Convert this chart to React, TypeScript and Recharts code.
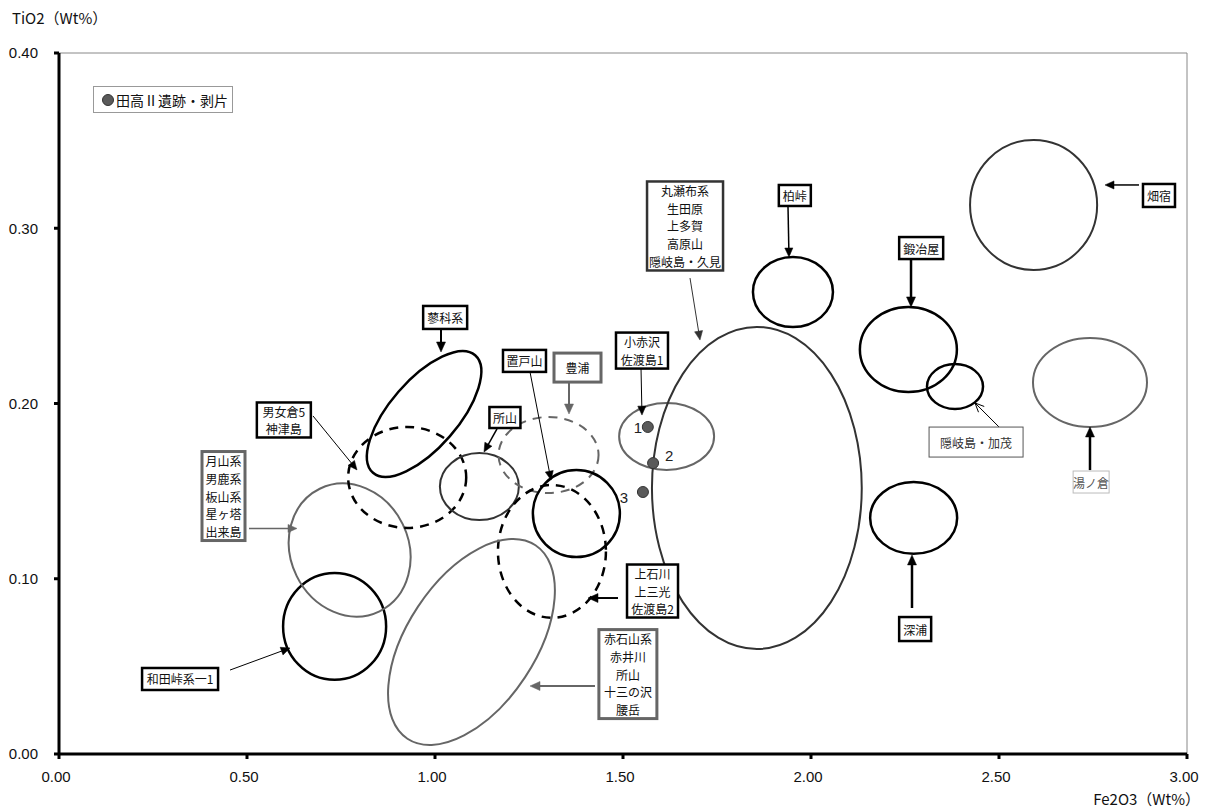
import React from 'react';
import {
  ScatterChart,
  Scatter,
  XAxis,
  YAxis,
  ReferenceArea,
  ReferenceLine,
  ReferenceDot,
  Legend,
} from 'recharts';

// ---------- data ----------
const xTicks = [0, 0.5, 1, 1.5, 2, 2.5, 3];
const yTicks = [0, 0.1, 0.2, 0.3, 0.4];
const xTitle = 'Fe2O3（Wt%）';
const yTitle = 'TiO2（Wt%）';
const seriesName = '田高Ⅱ遺跡・剥片';

// analysed flakes (Fe2O3, TiO2)
const samples = [
  { id: '1', fe: 1.566, ti: 0.1866 },
  { id: '2', fe: 1.58, ti: 0.166 },
  { id: '3', fe: 1.553, ti: 0.1495 },
];

// source fields: centre, half extents (Fe2O3, TiO2 units) before rotation, rotation in degrees
const fields = [
  { id: 'wada', fe: 0.733, ti: 0.0728, dFe: 0.137, dTi: 0.0305, angle: 0 },
  { id: 'gassan', fe: 0.773, ti: 0.1164, dFe: 0.157, dTi: 0.0389, angle: -26 },
  { id: 'menokura', fe: 0.926, ti: 0.1578, dFe: 0.157, dTi: 0.0288, angle: 0 },
  { id: 'tateshina', fe: 0.971, ti: 0.194, dFe: 0.207, dTi: 0.0194, angle: -49 },
  { id: 'tokoro', fe: 1.118, ti: 0.1526, dFe: 0.105, dTi: 0.0191, angle: 0 },
  { id: 'toyoura', fe: 1.302, ti: 0.1706, dFe: 0.133, dTi: 0.0217, angle: 0 },
  { id: 'oketo', fe: 1.376, ti: 0.1372, dFe: 0.1157, dTi: 0.0248, angle: 0 },
  { id: 'kamiishikawa', fe: 1.311, ti: 0.1156, dFe: 0.1436, dTi: 0.0379, angle: 0 },
  { id: 'akaishi', fe: 1.097, ti: 0.0639, dFe: 0.3085, dTi: 0.0366, angle: -56.5 },
  { id: 'koakasawa', fe: 1.616, ti: 0.1812, dFe: 0.1263, dTi: 0.0191, angle: 0 },
  { id: 'maruseppu', fe: 1.856, ti: 0.1518, dFe: 0.279, dTi: 0.0919, angle: 0 },
  { id: 'kashiwa', fe: 1.952, ti: 0.2636, dFe: 0.1064, dTi: 0.02, angle: 0 },
  { id: 'kajiya', fe: 2.259, ti: 0.2308, dFe: 0.129, dTi: 0.0243, angle: 0 },
  { id: 'kamo', fe: 2.383, ti: 0.2097, dFe: 0.0745, dTi: 0.0128, angle: 0 },
  { id: 'hatajuku', fe: 2.592, ti: 0.3133, dFe: 0.169, dTi: 0.0371, angle: 0 },
  { id: 'yunokura', fe: 2.742, ti: 0.212, dFe: 0.1516, dTi: 0.0254, angle: 0 },
  { id: 'fukaura', fe: 2.273, ti: 0.1347, dFe: 0.1157, dTi: 0.0205, angle: 0 },
];

// label anchors (Fe2O3, TiO2) and text
const labels = [
  { id: 'tateshina', fe: 1.027, ti: 0.2491, lines: ['蓼科系'] },
  { id: 'menokura', fe: 0.598, ti: 0.1906, lines: ['男女倉5', '神津島'] },
  { id: 'gassan', fe: 0.4375, ti: 0.1472, lines: ['月山系', '男鹿系', '板山系', '星ヶ塔', '出来島'] },
  { id: 'tokoro', fe: 1.186, ti: 0.192, lines: ['所山'] },
  { id: 'oketo', fe: 1.238, ti: 0.2243, lines: ['置戸山'] },
  { id: 'toyoura', fe: 1.379, ti: 0.2205, lines: ['豊浦'] },
  { id: 'koakasawa', fe: 1.5505, ti: 0.2302, lines: ['小赤沢', '佐渡島1'] },
  { id: 'kamiishikawa', fe: 1.5785, ti: 0.093, lines: ['上石川', '上三光', '佐渡島2'] },
  { id: 'akaishi', fe: 1.513, ti: 0.0456, lines: ['赤石山系', '赤井川', '所山', '十三の沢', '腰岳'] },
  { id: 'wada', fe: 0.322, ti: 0.0428, lines: ['和田峠系一1'] },
  { id: 'maruseppu', fe: 1.665, ti: 0.3013, lines: ['丸瀬布系', '生田原', '上多賀', '高原山', '隠岐島・久見'] },
  { id: 'kashiwa', fe: 1.957, ti: 0.3187, lines: ['柏峠'] },
  { id: 'kajiya', fe: 2.293, ti: 0.2887, lines: ['鍛冶屋'] },
  { id: 'kamo', fe: 2.439, ti: 0.178, lines: ['隠岐島・加茂'] },
  { id: 'hatajuku', fe: 2.9255, ti: 0.3187, lines: ['畑宿'] },
  { id: 'yunokura', fe: 2.745, ti: 0.1552, lines: ['湯ノ倉'] },
  { id: 'fukaura', fe: 2.277, ti: 0.0713, lines: ['深浦'] },
];

// leader arrows: from (label side) -> to (field side)
const arrows = [
  { id: 'tateshina', from: [1.016, 0.2425], to: [1.016, 0.2294] },
  { id: 'menokura', from: [0.6755, 0.1929], to: [0.7926, 0.1621] },
  { id: 'gassan', from: [0.5053, 0.1287], to: [0.633, 0.1287] },
  { id: 'tokoro', from: [1.1649, 0.1855], to: [1.1303, 0.1723] },
  { id: 'oketo', from: [1.2527, 0.218], to: [1.3085, 0.1563] },
  { id: 'toyoura', from: [1.3564, 0.2123], to: [1.3564, 0.194] },
  { id: 'koakasawa', from: [1.5479, 0.2203], to: [1.5505, 0.1934] },
  { id: 'kamiishikawa', from: [1.4867, 0.089], to: [1.4069, 0.089] },
  { id: 'akaishi', from: [1.4255, 0.0388], to: [1.2527, 0.0388] },
  { id: 'wada', from: [0.4548, 0.0479], to: [0.6144, 0.0605] },
  { id: 'maruseppu', from: [1.6782, 0.2716], to: [1.7048, 0.2362] },
  { id: 'kashiwa', from: [1.9388, 0.3127], to: [1.9415, 0.2836] },
  { id: 'kajiya', from: [2.266, 0.2825], to: [2.266, 0.2551] },
  { id: 'kamo', from: [2.5, 0.1866], to: [2.4362, 0.2003] },
  { id: 'hatajuku', from: [2.8723, 0.3247], to: [2.7819, 0.3247] },
  { id: 'yunokura', from: [2.742, 0.162], to: [2.742, 0.1866] },
  { id: 'fukaura', from: [2.2686, 0.0833], to: [2.2686, 0.1136] },
];

// ---------- styles ----------
const JP = '"Noto Sans CJK JP", "Noto Sans", sans-serif';
const LAT = '"Liberation Sans", Arial, sans-serif';
const BLACK = '#000';
const DARK = '#333';
const GRAY = '#666';

const fieldStyle: Record<string, { stroke: string; w: number; dash?: string }> = {
  wada: { stroke: BLACK, w: 2.5 },
  gassan: { stroke: GRAY, w: 2 },
  menokura: { stroke: BLACK, w: 2.5, dash: '9 7' },
  tateshina: { stroke: BLACK, w: 2.5 },
  tokoro: { stroke: DARK, w: 2 },
  toyoura: { stroke: GRAY, w: 2, dash: '9 7' },
  oketo: { stroke: BLACK, w: 2.5 },
  kamiishikawa: { stroke: BLACK, w: 2.5, dash: '9 7' },
  akaishi: { stroke: GRAY, w: 2 },
  koakasawa: { stroke: GRAY, w: 2 },
  maruseppu: { stroke: DARK, w: 2 },
  kashiwa: { stroke: BLACK, w: 2.5 },
  kajiya: { stroke: BLACK, w: 2.5 },
  kamo: { stroke: BLACK, w: 2.5 },
  hatajuku: { stroke: DARK, w: 2 },
  yunokura: { stroke: GRAY, w: 2 },
  fukaura: { stroke: BLACK, w: 2.5 },
};

const boxStyle: Record<string, { w: number; h: number; border: string; bw: number; color: string }> = {
  tateshina: { w: 44, h: 23, border: BLACK, bw: 2.5, color: '#111' },
  menokura: { w: 54, h: 35, border: BLACK, bw: 2.5, color: '#111' },
  gassan: { w: 43, h: 89, border: GRAY, bw: 3, color: '#111' },
  tokoro: { w: 31, h: 21, border: BLACK, bw: 2.5, color: '#111' },
  oketo: { w: 43, h: 22, border: BLACK, bw: 2.5, color: '#111' },
  toyoura: { w: 47, h: 29, border: GRAY, bw: 3, color: '#111' },
  koakasawa: { w: 52, h: 36, border: BLACK, bw: 2.5, color: '#111' },
  kamiishikawa: { w: 51, h: 53, border: BLACK, bw: 2.5, color: '#111' },
  akaishi: { w: 58, h: 89, border: GRAY, bw: 3, color: '#111' },
  wada: { w: 76, h: 22, border: BLACK, bw: 2.5, color: '#111' },
  maruseppu: { w: 76, h: 89, border: DARK, bw: 2.5, color: '#111' },
  kashiwa: { w: 32, h: 21, border: BLACK, bw: 2.5, color: '#111' },
  kajiya: { w: 44, h: 22, border: BLACK, bw: 2.5, color: '#111' },
  kamo: { w: 94, h: 30, border: '#555', bw: 1, color: '#333' },
  hatajuku: { w: 32, h: 23, border: BLACK, bw: 2.5, color: '#111' },
  yunokura: { w: 36, h: 22, border: '#bbb', bw: 1, color: '#555' },
  fukaura: { w: 32, h: 24, border: BLACK, bw: 2.5, color: '#111' },
};

const arrowStyle: Record<string, { stroke: string; w: number; head: number; open?: boolean }> = {
  tateshina: { stroke: BLACK, w: 2, head: 10 },
  menokura: { stroke: BLACK, w: 1, head: 9 },
  gassan: { stroke: GRAY, w: 1.5, head: 9 },
  tokoro: { stroke: BLACK, w: 1.5, head: 9 },
  oketo: { stroke: BLACK, w: 1, head: 9 },
  toyoura: { stroke: GRAY, w: 2, head: 10 },
  koakasawa: { stroke: BLACK, w: 1, head: 9 },
  kamiishikawa: { stroke: BLACK, w: 2, head: 10 },
  akaishi: { stroke: GRAY, w: 2, head: 10 },
  wada: { stroke: BLACK, w: 1, head: 9 },
  maruseppu: { stroke: DARK, w: 1, head: 9 },
  kashiwa: { stroke: BLACK, w: 1.5, head: 9 },
  kajiya: { stroke: BLACK, w: 2.5, head: 10 },
  kamo: { stroke: BLACK, w: 1, head: 9, open: true },
  hatajuku: { stroke: BLACK, w: 1.5, head: 9 },
  yunokura: { stroke: BLACK, w: 2.5, head: 10 },
  fukaura: { stroke: BLACK, w: 2.5, head: 10 },
};

const sampleLabelOffset: Record<string, [number, number]> = {
  '1': [-10, 1],
  '2': [16, -8],
  '3': [-19, 5],
};

// ---------- shapes ----------
const renderEllipse = (p: any, angle: number, st: { stroke: string; w: number; dash?: string }) => {
  const { x, y, width, height } = p;
  if (x == null || y == null) return <g />;
  const cx = x + width / 2;
  const cy = y + height / 2;
  return (
    <ellipse
      cx={cx}
      cy={cy}
      rx={width / 2}
      ry={height / 2}
      transform={`rotate(${angle} ${cx} ${cy})`}
      fill="none"
      stroke={st.stroke}
      strokeWidth={st.w}
      strokeDasharray={st.dash}
    />
  );
};

const renderArrow = (p: any, st: { stroke: string; w: number; head: number; open?: boolean }) => {
  const { x1, y1, x2, y2 } = p;
  if ([x1, y1, x2, y2].some((v) => v == null || Number.isNaN(v))) return <g />;
  const dx = x2 - x1;
  const dy = y2 - y1;
  const len = Math.hypot(dx, dy) || 1;
  const ux = dx / len;
  const uy = dy / len;
  const L = st.head;
  const W = st.head * 0.45;
  const bx = x2 - ux * L;
  const by = y2 - uy * L;
  const nx = -uy;
  const ny = ux;
  const pts = `${bx + nx * W},${by + ny * W} ${x2},${y2} ${bx - nx * W},${by - ny * W}`;
  if (st.open) {
    return (
      <g>
        <line x1={x1} y1={y1} x2={x2} y2={y2} stroke={st.stroke} strokeWidth={st.w} />
        <polyline points={pts} fill="none" stroke={st.stroke} strokeWidth={st.w} />
      </g>
    );
  }
  return (
    <g>
      <line x1={x1} y1={y1} x2={bx + ux * 1} y2={by + uy * 1} stroke={st.stroke} strokeWidth={st.w} />
      <polygon points={pts} fill={st.stroke} stroke={st.stroke} strokeWidth={0.5} />
    </g>
  );
};

const renderBox = (p: any, lines: string[], st: { w: number; h: number; border: string; bw: number; color: string }) => {
  const { cx, cy } = p;
  if (cx == null || cy == null) return <g />;
  const lh = 17.6;
  const y0 = cy - ((lines.length - 1) * lh) / 2;
  return (
    <g>
      <rect
        x={cx - st.w / 2}
        y={cy - st.h / 2}
        width={st.w}
        height={st.h}
        fill="#fff"
        stroke={st.border}
        strokeWidth={st.bw}
      />
      {lines.map((t, i) => (
        <text
          key={i}
          x={cx}
          y={y0 + i * lh}
          textAnchor="middle"
          dominantBaseline="central"
          fontSize={12}
          fontFamily={JP}
          fill={st.color}
        >
          {t}
        </text>
      ))}
    </g>
  );
};

const renderSample = (p: any) => {
  const { cx, cy, payload } = p;
  const off = sampleLabelOffset[payload.id] || [0, 0];
  return (
    <g>
      <circle cx={cx} cy={cy} r={5.5} fill="#5a5a5a" stroke="#333" strokeWidth={1} />
      <text
        x={cx + off[0]}
        y={cy + off[1]}
        textAnchor="middle"
        dominantBaseline="central"
        fontSize={15}
        fontFamily={LAT}
        fill="#222"
      >
        {payload.id}
      </text>
    </g>
  );
};

const LegendBox = () => (
  <div
    style={{
      width: 140,
      height: 27,
      boxSizing: 'border-box',
      border: '1px solid #999',
      background: '#fff',
      display: 'flex',
      alignItems: 'center',
      paddingLeft: 8,
      fontFamily: JP,
      fontSize: 14,
      color: '#111',
      whiteSpace: 'nowrap',
    }}
  >
    <span
      style={{
        display: 'inline-block',
        width: 10,
        height: 10,
        borderRadius: 6,
        background: '#5a5a5a',
        border: '1px solid #333',
        marginRight: 2,
      }}
    />
    {seriesName}
  </div>
);

const YTitle = (p: any) => {
  const vb = p.viewBox || { x: 0, y: 53 };
  return (
    <text x={vb.x + 12} y={vb.y - 29} fontSize={15} fontFamily={JP} fill="#111">
      {yTitle}
    </text>
  );
};

const XTitle = (p: any) => {
  const vb = p.viewBox || { x: 59, y: 754, width: 1128 };
  return (
    <text x={vb.x + vb.width + 13} y={vb.y + 51} textAnchor="end" fontSize={15} fontFamily={JP} fill="#111">
      {xTitle}
    </text>
  );
};

export default function App() {
  return (
    <div style={{ position: 'absolute', left: 0, top: 0, width: 1216, height: 812, background: '#fff' }}>
      <ScatterChart width={1216} height={812} margin={{ top: 53, right: 29, bottom: 0, left: 0 }}>
        <XAxis
          type="number"
          dataKey="fe"
          domain={[0, 3]}
          ticks={xTicks}
          allowDataOverflow
          height={58}
          tickFormatter={(v: number) => v.toFixed(2)}
          tick={{ fontSize: 15, fill: '#111', fontFamily: LAT, dx: -3 }}
          tickSize={5}
          tickMargin={12}
          axisLine={{ stroke: '#000', strokeWidth: 3 }}
          tickLine={{ stroke: '#000', strokeWidth: 3 }}
          label={{ content: XTitle }}
        />
        <YAxis
          type="number"
          dataKey="ti"
          domain={[0, 0.4]}
          ticks={yTicks}
          allowDataOverflow
          width={59}
          tickFormatter={(v: number) => v.toFixed(2)}
          tick={{ fontSize: 15, fill: '#111', fontFamily: LAT }}
          tickSize={5}
          tickMargin={16}
          axisLine={{ stroke: '#000', strokeWidth: 3 }}
          tickLine={{ stroke: '#000', strokeWidth: 3 }}
          label={{ content: YTitle }}
        />
        <ReferenceLine y={0.4} stroke="#888" strokeWidth={1} />
        <ReferenceLine x={3} stroke="#888" strokeWidth={1} />

        {fields.map((f) => (
          <ReferenceArea
            key={`f-${f.id}`}
            x1={f.fe - f.dFe}
            x2={f.fe + f.dFe}
            y1={f.ti - f.dTi}
            y2={f.ti + f.dTi}
            ifOverflow="visible"
            shape={(p: any) => renderEllipse(p, f.angle, fieldStyle[f.id])}
          />
        ))}

        {arrows.map((a) => (
          <ReferenceLine
            key={`a-${a.id}`}
            segment={[
              { x: a.from[0], y: a.from[1] },
              { x: a.to[0], y: a.to[1] },
            ]}
            ifOverflow="visible"
            shape={(p: any) => renderArrow(p, arrowStyle[a.id])}
          />
        ))}

        {labels.map((l) => (
          <ReferenceDot
            key={`l-${l.id}`}
            x={l.fe}
            y={l.ti}
            ifOverflow="visible"
            shape={(p: any) => renderBox(p, l.lines, boxStyle[l.id])}
          />
        ))}

        <Scatter name={seriesName} data={samples} shape={renderSample} isAnimationActive={false} />

        <Legend
          layout="vertical"
          align="center"
          verticalAlign="middle"
          content={() => <LegendBox />}
          wrapperStyle={{ left: 93, top: 86, width: 140, height: 27 }}
        />
      </ScatterChart>
    </div>
  );
}
